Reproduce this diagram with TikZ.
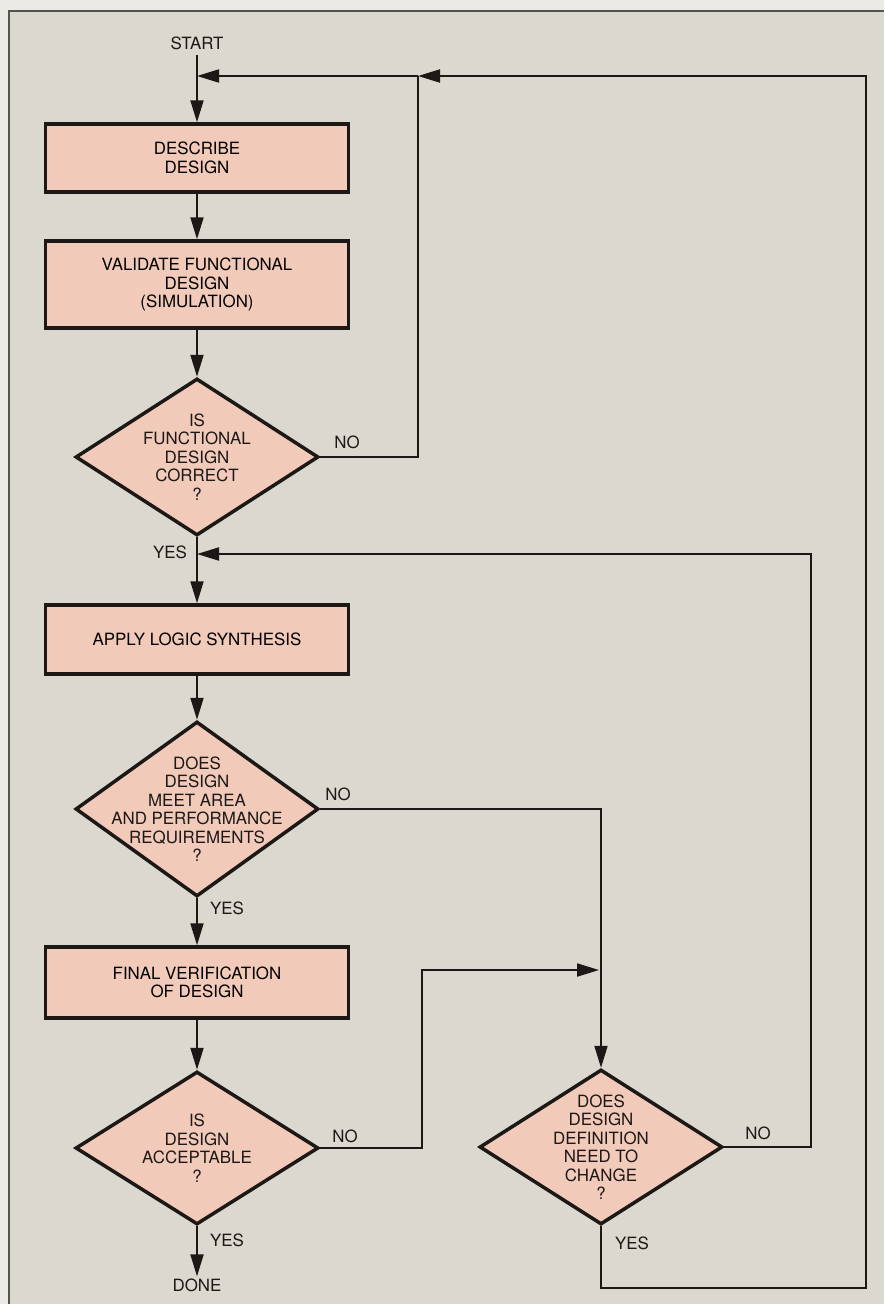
\documentclass[tikz,border=0pt]{standalone}
\usepackage{fontspec}
\setmainfont{TeX Gyre Heros}
\usepackage{xcolor}
\usetikzlibrary{shapes, arrows.meta, positioning, calc}

\definecolor{paper}{RGB}{219,216,208}
\definecolor{margin}{RGB}{236,234,228}
\definecolor{boxpink}{RGB}{242,202,186}
\definecolor{ink}{RGB}{28,24,22}

\tikzset{
  process/.style={rectangle, draw=ink, line width=3.5pt, fill=boxpink, minimum width=303pt, align=center, inner sep=0pt},
  decision/.style={diamond, draw=ink, line width=3.5pt, fill=boxpink, minimum width=243pt, inner sep=0pt},
  flow/.style={draw=ink, line width=2pt},
  arr/.style={flow, -{Triangle[length=22pt,width=13pt]}},
  word/.style={inner sep=2pt, text=ink}
}

\begin{document}
\begin{tikzpicture}[x=1pt, y=-1pt, font=\fontsize{16.9pt}{18.5pt}\selectfont]
  % Page and frame
  \useasboundingbox (0,0) rectangle (884,1304);
  \fill[margin] (0,0) rectangle (884,1304);
  \fill[paper] (9,11) rectangle (884,1304);
  \draw[ink!75, line width=1.5pt] (9,1304) -- (9,11) -- (884,11);

  % Main column
  \node[word, inner sep=5pt] (start) at (197,43) {START};
  \node[process, minimum height=68pt] (describe) at (197,158) {DESCRIBE\\DESIGN};
  \node[process, minimum height=87pt] (validate) at (197,284.5) {VALIDATE FUNCTIONAL\\DESIGN\\(SIMULATION)};
  \node[decision, minimum height=157pt] (d1) at (197,457) {};
  \node[word, align=center] (d1text) at (d1) {IS\\FUNCTIONAL\\DESIGN\\CORRECT\\?};
  \node[process, minimum height=69pt] (apply) at (197,639.5) {APPLY LOGIC SYNTHESIS};
  \node[decision, minimum height=175pt] (d2) at (197,809) {};
  \node[word, align=center] (d2text) at (d2) {DOES\\DESIGN\\MEET AREA\\AND PERFORMANCE\\REQUIREMENTS\\?};
  \node[process, minimum height=71pt] (final) at (197,982.5) {FINAL VERIFICATION\\OF DESIGN};
  \node[decision, minimum height=153pt] (d3) at (197,1148) {};
  \node[word, align=center] (d3text) at (d3) {IS\\DESIGN\\ACCEPTABLE\\?};
  \node[word] (done) at (197,1285) {DONE};

  % Right column
  \node[decision, minimum height=155pt] (d4) at (601,1147) {};
  \node[word, align=center] (d4text) at (d4) {DOES\\DESIGN\\DEFINITION\\NEED TO\\CHANGE\\?};

  % Corners of the loops
  \coordinate (m1) at (197,76);
  \coordinate (j1) at (418,76);
  \coordinate (c1) at (866,1288);
  \coordinate (m2) at (197,554);
  \coordinate (c2) at (811,554);
  \coordinate (c4) at (422,970);
  \coordinate (m4) at (599,970);

  % Main flow
  \draw[arr] (start) -- (describe);
  \draw[arr] (describe) -- (validate);
  \draw[arr] (validate) -- (d1);
  \draw[arr] (d1) -- (apply);
  \draw[arr] (apply) -- (d2);
  \draw[arr] (d2) -- (final);
  \draw[arr] (final) -- (d3);
  \draw[arr] (d3) -- (done);

  % Loops back
  \draw[flow] (d1.east) -| (j1);
  \draw[arr] (j1) -- (m1);
  \draw[arr] (d4.south) |- (c1) |- (j1);
  \draw[arr] (d4.east) -| (c2) -- (m2);
  \draw[arr] (d2.east) -| (d4.north);
  \draw[arr] (d3.east) -| (c4) -- (m4);

  % Branch labels
  \node[word] (no1) at (347,442) {NO};
  \node[word] (yes1) at (170,552) {YES};
  \node[word] (no2) at (338,794) {NO};
  \node[word] (yes2) at (227,908) {YES};
  \node[word] (no3) at (345,1136) {NO};
  \node[word] (yes3) at (227,1240) {YES};
  \node[word] (no4) at (758,1133) {NO};
  \node[word] (yes4) at (632,1243) {YES};
\end{tikzpicture}
\end{document}
